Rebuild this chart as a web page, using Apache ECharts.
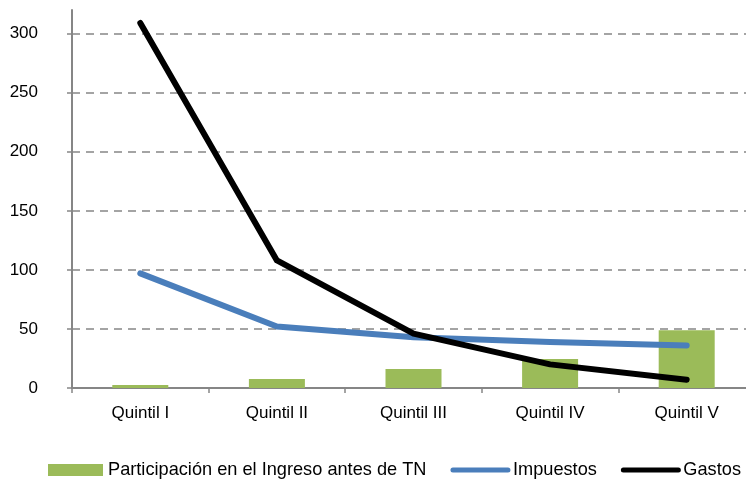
<!DOCTYPE html>
<html>
<head>
<meta charset="utf-8">
<script src="https://cdn.jsdelivr.net/npm/echarts@6/dist/echarts.min.js"></script>
<style>
  html, body { margin: 0; padding: 0; background: #fff; }
  #main { width: 746px; height: 483px; }
</style>
</head>
<body>
<div id="main"></div>
<script>
const categories = ['Quintil I', 'Quintil II', 'Quintil III', 'Quintil IV', 'Quintil V'];
const participacion = [2.5, 7.6, 16, 24.5, 48.8];
const impuestos = [97, 52, 43, 39, 36];
const gastos = [309, 108, 46, 20, 7];
const yTicks = [0, 50, 100, 150, 200, 250, 300];

const font = 'Liberation Sans, Arial, sans-serif';
const chart = echarts.init(document.getElementById('main'));

chart.setOption({
  animation: false,
  grid: { left: 72, right: -9, top: 10, bottom: 95, outerBoundsMode: 'none' },
  legend: {
    left: 43,
    top: 456,
    width: 720,
    padding: [5, 0, 5, 5],
    itemWidth: 55,
    itemHeight: 12,
    itemGap: 24,
    textStyle: { fontFamily: font, fontSize: 18.2, color: '#000' },
    data: [
      { name: 'Participación en el Ingreso antes de TN', icon: 'rect' },
      { name: 'Impuestos', itemStyle: { opacity: 0 }, lineStyle: { width: 5, cap: 'round' } },
      { name: 'Gastos', itemStyle: { opacity: 0 }, lineStyle: { width: 5, cap: 'round' } }
    ]
  },
  xAxis: {
    type: 'category',
    data: categories,
    axisLine: { lineStyle: { color: '#868686', width: 2 } },
    axisTick: { show: true, length: 5, lineStyle: { color: '#868686', width: 1.5 } },
    axisLabel: { color: '#000', fontFamily: font, fontSize: 17, margin: 17 }
  },
  yAxis: {
    type: 'value',
    min: 0,
    max: 320,
    interval: 50,
    axisLine: { show: true, lineStyle: { color: '#868686', width: 2 } },
    axisTick: { show: true, length: 5, customValues: yTicks, lineStyle: { color: '#868686', width: 1.5 } },
    axisLabel: { color: '#000', fontFamily: font, fontSize: 17, margin: 34, customValues: yTicks },
    splitLine: { lineStyle: { color: '#868686', width: 1.5, type: [8, 6] } }
  },
  series: [
    {
      name: 'Participación en el Ingreso antes de TN',
      type: 'bar',
      data: participacion,
      barWidth: 56,
      itemStyle: { color: '#9BBB59' }
    },
    {
      name: 'Impuestos',
      type: 'line',
      data: impuestos,
      symbol: 'none',
      itemStyle: { color: '#4A7EBB' },
      lineStyle: { color: '#4A7EBB', width: 6, cap: 'round', join: 'round' }
    },
    {
      name: 'Gastos',
      type: 'line',
      data: gastos,
      symbol: 'none',
      itemStyle: { color: '#000' },
      lineStyle: { color: '#000', width: 6, cap: 'round', join: 'round' }
    }
  ]
});
</script>
</body>
</html>
